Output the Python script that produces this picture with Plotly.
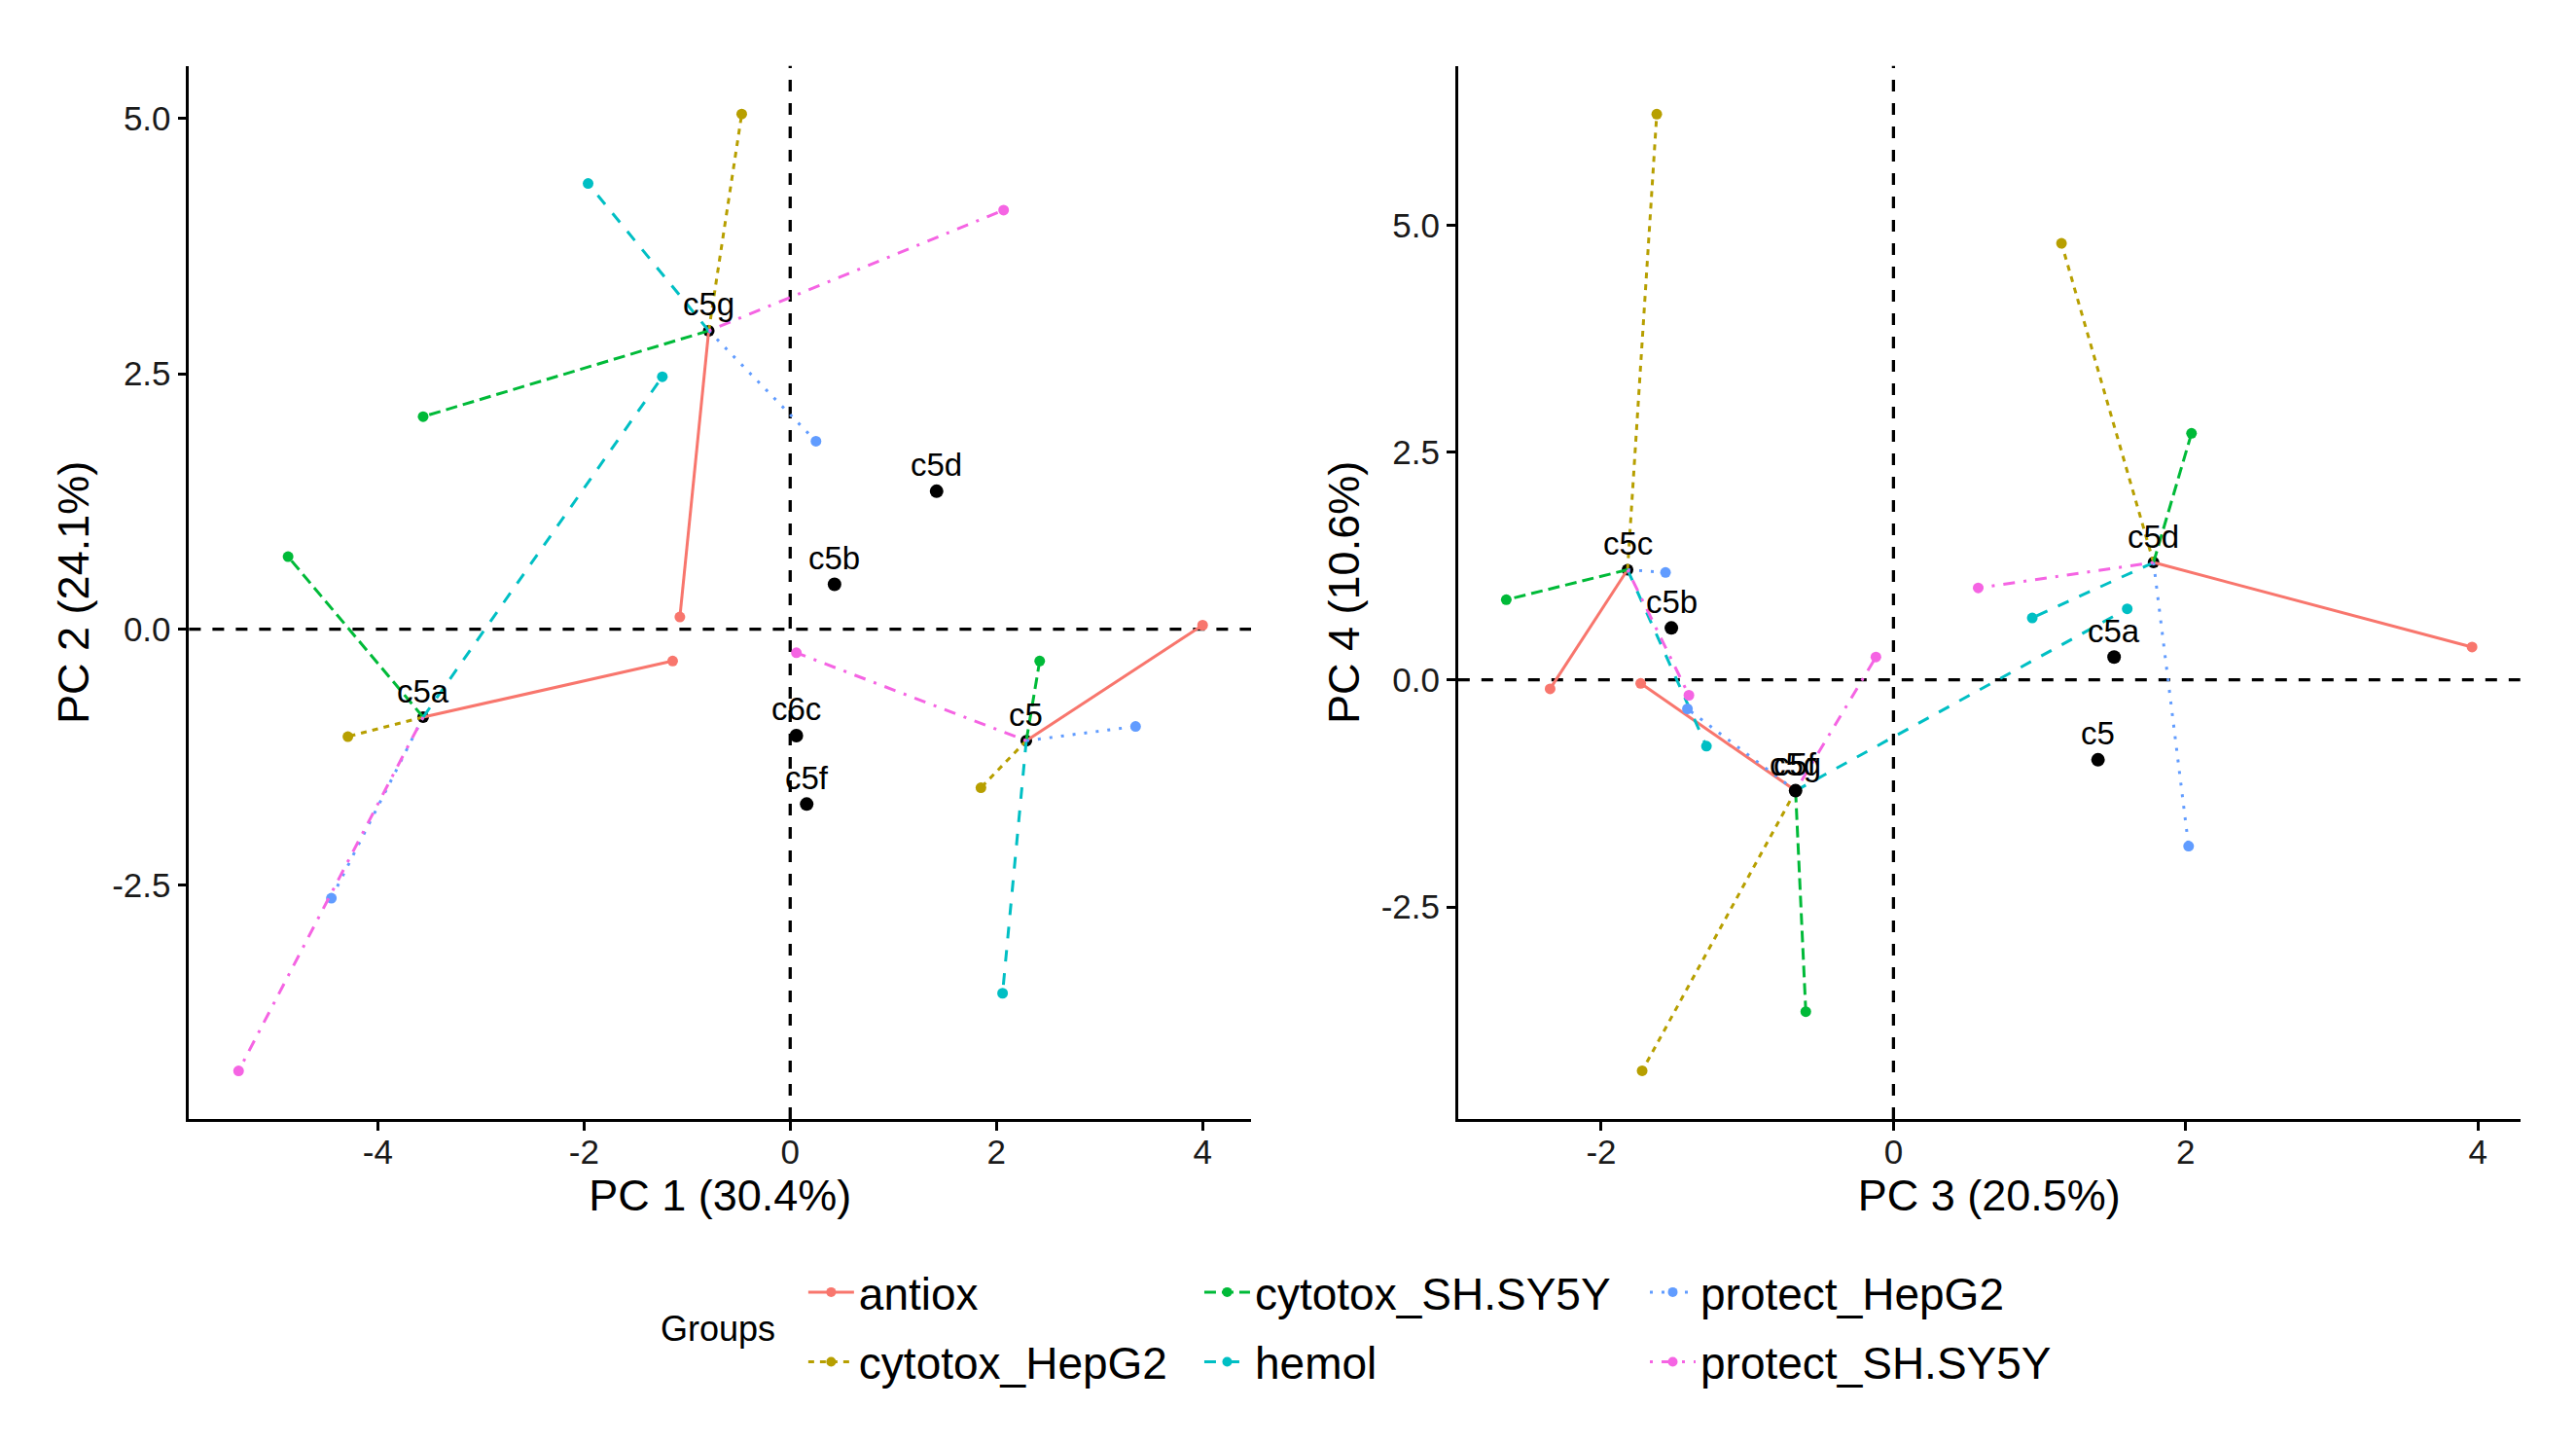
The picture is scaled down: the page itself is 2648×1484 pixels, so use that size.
import plotly.graph_objects as go

FONT = "Liberation Sans, Arial, Helvetica, sans-serif"

groups = ["antiox", "cytotox_HepG2", "cytotox_SH.SY5Y", "hemol", "protect_HepG2", "protect_SH.SY5Y"]
group_colors = ["#F8766D", "#B79F00", "#00BA38", "#00BFC4", "#619CFF", "#F564E3"]
group_dashes = ["solid", "6px,6px", "12px,6px", "12px,12px", "3px,9px", "3px,9px,12px,9px"]

# ---------------- Panel 1: PC1 vs PC2 ----------------
p1_centers = ["c5g", "c5a", "c5"]
p1_center_x = [-0.79, -3.56, 2.29]
p1_center_y = [2.92, -0.86, -1.09]

p1_others = ["c5d", "c5b", "c6c", "c5f"]
p1_other_x = [1.42, 0.43, 0.06, 0.16]
p1_other_y = [1.35, 0.44, -1.04, -1.71]

# group end points, ordered as p1_centers
p1_antiox_x = [-1.07, -1.14, 4.00]
p1_antiox_y = [0.12, -0.31, 0.04]
p1_cytoHep_x = [-0.47, -4.29, 1.85]
p1_cytoHep_y = [5.04, -1.05, -1.55]
p1_cytoSH_x = [-3.56, -4.87, 2.42]
p1_cytoSH_y = [2.08, 0.71, -0.31]
p1_hemol_x = [-1.96, -1.24, 2.06]
p1_hemol_y = [4.36, 2.47, -3.56]
p1_protHep_x = [0.25, -4.45, 3.35]
p1_protHep_y = [1.84, -2.63, -0.95]
p1_protSH_x = [2.07, -5.35, 0.06]
p1_protSH_y = [4.10, -4.32, -0.23]

# ---------------- Panel 2: PC3 vs PC4 ----------------
p2_centers = ["c5c", "c5g", "c5d"]
p2_center_x = [-1.82, -0.67, 1.78]
p2_center_y = [1.21, -1.22, 1.29]

p2_others = ["c5b", "c5a", "c5", "c5f"]
p2_other_x = [-1.52, 1.51, 1.40, -0.67]
p2_other_y = [0.57, 0.25, -0.88, -1.22]

p2_antiox_x = [-2.35, -1.73, 3.96]
p2_antiox_y = [-0.10, -0.04, 0.36]
p2_cytoHep_x = [-1.62, -1.72, 1.15]
p2_cytoHep_y = [6.22, -4.30, 4.80]
p2_cytoSH_x = [-2.65, -0.60, 2.04]
p2_cytoSH_y = [0.88, -3.65, 2.71]
p2_hemol_x = [-1.28, 1.60, 0.95]
p2_hemol_y = [-0.73, 0.78, 0.68]
p2_protHep_x = [-1.56, -1.41, 2.02]
p2_protHep_y = [1.18, -0.32, -1.83]
p2_protSH_x = [-1.40, -0.12, 0.58]
p2_protSH_y = [-0.17, 0.25, 1.01]

p1_ends = [(p1_antiox_x, p1_antiox_y), (p1_cytoHep_x, p1_cytoHep_y), (p1_cytoSH_x, p1_cytoSH_y),
           (p1_hemol_x, p1_hemol_y), (p1_protHep_x, p1_protHep_y), (p1_protSH_x, p1_protSH_y)]
p2_ends = [(p2_antiox_x, p2_antiox_y), (p2_cytoHep_x, p2_cytoHep_y), (p2_cytoSH_x, p2_cytoSH_y),
           (p2_hemol_x, p2_hemol_y), (p2_protHep_x, p2_protHep_y), (p2_protSH_x, p2_protSH_y)]

# axis settings
p1_xrange = [-5.83, 4.47]
p1_yrange = [-4.79, 5.51]
p2_xrange = [-2.98, 4.29]
p2_yrange = [-4.83, 6.75]
p1_xticks = [-4, -2, 0, 2, 4]
p1_xticklabels = ["-4", "-2", "0", "2", "4"]
p2_xticks = [-2, 0, 2, 4]
p2_xticklabels = ["-2", "0", "2", "4"]
y_ticks = [-2.5, 0.0, 2.5, 5.0]
y_ticklabels = ["-2.5", "0.0", "2.5", "5.0"]
x_titles = ["PC 1 (30.4%)", "PC 3 (20.5%)"]
y_titles = ["PC 2 (24.1%)", "PC 4 (10.6%)"]

fig = go.Figure()

panels = [
    ("x", "y", p1_centers, p1_center_x, p1_center_y, p1_others, p1_other_x, p1_other_y, p1_ends),
    ("x2", "y2", p2_centers, p2_center_x, p2_center_y, p2_others, p2_other_x, p2_other_y, p2_ends),
]

annotations = []
for xa, ya, cn, cx, cy, on, ox, oy, ends in panels:
    # centre points (drawn beneath the segments)
    fig.add_trace(go.Scatter(x=cx, y=cy, xaxis=xa, yaxis=ya, mode="markers",
                             marker=dict(color="black", size=12), showlegend=False, hoverinfo="skip"))
    for gi, (ex, ey) in enumerate(ends):
        sx, sy = [], []
        for k in range(len(ex)):
            sx += [cx[k], ex[k], None]
            sy += [cy[k], ey[k], None]
        fig.add_trace(go.Scatter(x=sx, y=sy, xaxis=xa, yaxis=ya, mode="lines",
                                 line=dict(color=group_colors[gi], width=3, dash=group_dashes[gi]),
                                 showlegend=False, hoverinfo="skip"))
        fig.add_trace(go.Scatter(x=ex, y=ey, xaxis=xa, yaxis=ya, mode="markers",
                                 marker=dict(color=group_colors[gi], size=11),
                                 showlegend=False, hoverinfo="skip"))
    fig.add_trace(go.Scatter(x=ox, y=oy, xaxis=xa, yaxis=ya, mode="markers",
                             marker=dict(color="black", size=14), showlegend=False, hoverinfo="skip"))
    for names, xs, ys in ((cn, cx, cy), (on, ox, oy)):
        for n, xv, yv in zip(names, xs, ys):
            annotations.append(dict(x=xv, y=yv, xref=xa, yref=ya, text=n, showarrow=False,
                                    yshift=27, font=dict(family=FONT, size=33, color="black")))

# legend entries (one legend per entry, arranged in 3 columns x 2 rows)
leg_x = [0.3098, 0.3098, 0.464, 0.464, 0.6375, 0.6375]
leg_y = [0.1057, 0.0572, 0.1057, 0.0572, 0.1057, 0.0572]
legend_layouts = {}
for gi, g in enumerate(groups):
    lname = "legend" if gi == 0 else f"legend{gi + 1}"
    fig.add_trace(go.Scatter(x=[None], y=[None], mode="lines+markers", name=g, legend=lname,
                             line=dict(color=group_colors[gi], width=3, dash=group_dashes[gi]),
                             marker=dict(color=group_colors[gi], size=10), showlegend=True))
    legend_layouts[lname] = dict(x=leg_x[gi], y=leg_y[gi], xanchor="left", yanchor="middle",
                                 bgcolor="rgba(0,0,0,0)", borderwidth=0, itemwidth=47,
                                 font=dict(family=FONT, size=46, color="black"))

annotations.append(dict(x=0.2765, y=0.080, xref="paper", yref="paper", text="Groups", showarrow=False,
                        xanchor="center", yanchor="middle", font=dict(family=FONT, size=36, color="black")))

axis_common = dict(showgrid=False, zeroline=False, showline=True, linecolor="black", linewidth=2.7,
                   ticks="outside", ticklen=9, tickwidth=2.5, tickcolor="black",
                   tickfont=dict(family=FONT, size=35, color="#1a1a1a"), automargin=False, mirror=False)

fig.update_layout(
    width=2640, height=1476,
    margin=dict(l=0, r=0, t=0, b=0),
    paper_bgcolor="white", plot_bgcolor="white",
    font=dict(family=FONT, color="black"),
    xaxis=dict(domain=[0.0706, 0.4841], range=p1_xrange, tickvals=p1_xticks, ticktext=p1_xticklabels,
               ticklabelstandoff=-8,
               title=dict(text=x_titles[0], font=dict(family=FONT, size=45, color="black"), standoff=8),
               anchor="y", **axis_common),
    yaxis=dict(domain=[0.2263, 0.9595], range=p1_yrange, tickvals=y_ticks, ticktext=y_ticklabels,
               title=dict(text=y_titles[0], font=dict(family=FONT, size=45, color="black"), standoff=10),
               anchor="x", **axis_common),
    xaxis2=dict(domain=[0.5647, 0.9783], range=p2_xrange, tickvals=p2_xticks, ticktext=p2_xticklabels,
                ticklabelstandoff=-8,
                title=dict(text=x_titles[1], font=dict(family=FONT, size=45, color="black"), standoff=8),
                anchor="y2", **axis_common),
    yaxis2=dict(domain=[0.2263, 0.9595], range=p2_yrange, tickvals=y_ticks, ticktext=y_ticklabels,
                title=dict(text=y_titles[1], font=dict(family=FONT, size=45, color="black"), standoff=8),
                anchor="x2", **axis_common),
    annotations=annotations,
    shapes=[
        dict(type="line", xref="x", yref="y domain", x0=0, x1=0, y0=0, y1=1,
             line=dict(color="black", width=3.3, dash="12px,12px"), layer="below"),
        dict(type="line", xref="x domain", yref="y", x0=0, x1=1, y0=0, y1=0,
             line=dict(color="black", width=3.3, dash="12px,12px"), layer="below"),
        dict(type="line", xref="x2", yref="y2 domain", x0=0, x1=0, y0=0, y1=1,
             line=dict(color="black", width=3.3, dash="12px,12px"), layer="below"),
        dict(type="line", xref="x2 domain", yref="y2", x0=0, x1=1, y0=0, y1=0,
             line=dict(color="black", width=3.3, dash="12px,12px"), layer="below"),
    ],
    **legend_layouts,
)

fig.write_html("out.html")
